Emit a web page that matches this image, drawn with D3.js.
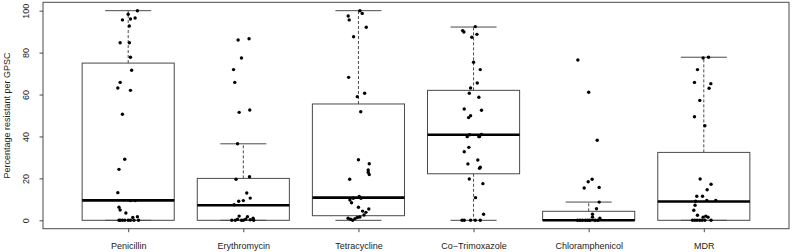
<!DOCTYPE html>
<html>
<head>
<meta charset="utf-8">
<script src="https://cdn.jsdelivr.net/npm/d3@7"></script>
<style>
	body { margin: 0; background: #fff; }
	svg { display: block; font-family: 'Liberation Sans', Arial, Helvetica, sans-serif; }
</style>
</head>
<body>
<svg id="chart" width="793" height="252"></svg>
<script>
const categories = ['Penicillin', 'Erythromycin', 'Tetracycline', 'Co\u2212Trimoxazole', 'Chloramphenicol', 'MDR']

// box statistics (percent)
const whiskerLow = [0, 0, 0, 0, 0, 0]
const q1 = [0, 0, 2.2, 22.2, 0, 0]
const medians = [9.5, 7.2, 10.8, 40.8, 0, 9]
const q3 = [75, 20, 55.5, 62, 4.3, 32.4]
const whiskerHigh = [100, 36.5, 100, 92.2, 8.7, 77.8]

const yTicks = [0, 20, 40, 60, 80, 100]

// per-GPSC values and the horizontal jitter seen in the picture (category units)
const penicillinPct = [100, 98.3, 96, 96.5, 95.6, 92.7, 84.7, 84.7, 77.8, 71.6, 65.8, 63.1, 62, 50.6, 29.1, 24.3, 13.2, 9.4, 9.4, 6.2, 4.9, 3.5, 1.7, 1.4, 0, 0, 0, 0, 0, 0, 0, 0]
const penicillinJit = [.08, 0, .02, .06, -.05, .01, -.07, .01, .02, .03, -.07, -.09, .02, -.05, -.03, -.08, -.09, .02, .06, -.08, -.07, -.02, .08, .04, -.07, -.05, -.03, 0, .02, .05, .09, -.08]

const erythromycinPct = [86, 86.6, 77.4, 71.9, 65.8, 51.5, 52.6, 36.5, 19.6, 20.8, 13, 10.6, 9.4, 9.1, 7.4, 0, 0, 0.5, 2, 0, 0, 0.5, 1.7, 0.3, 1, 0]
const erythromycinJit = [-.045, .05, -.016, -.085, -.074, -.036, .056, -.05, -.063, .054, .03, .06, 0, -.04, -.08, -.1, -.07, -.05, -.036, -.016, 0, .02, .036, .06, .085, .09]

const tetracyclinePct = [100, 98.7, 97.5, 95.6, 92.1, 87.6, 68.2, 60.6, 59, 51.8, 28.9, 27, 24, 22.9, 21.8, 19.6, 11.4, 10.5, 10.5, 9.7, 8.4, 6.2, 5.4, 4.4, 3.8, 2.5, 1, 0.5, 0, 0.8, 1.4, 1.6]
const tetracyclineJit = [.013, .033, -.089, -.08, .068, -.042, -.085, .054, -.01, .02, 0, .094, .085, .085, .094, -.076, .007, -.045, .022, -.074, -.06, 0, .09, .036, .065, .048, -.09, -.068, -.05, -.03, -.01, .013]

const coTrimoxazolePct = [92.4, 90.5, 89.8, 88.7, 87.3, 75.4, 71.9, 65.5, 63.1, 60.6, 58.7, 53.1, 52.5, 49.9, 49, 40.8, 39.9, 40, 41, 39.9, 34.8, 32.7, 28.8, 26.9, 25.3, 24.8, 19.7, 17.5, 10.8, 2.9, 0, 0, 0, 0, 0]
const coTrimoxazoleJit = [.015, -.095, -.084, .029, -.015, 0, .058, .032, -.026, -.037, .046, -.081, .069, -.026, -.043, -.035, -.055, .052, .069, .046, -.041, -.081, .037, -.049, .058, .052, -.037, .081, .017, .087, -.1, -.081, -.026, .015, .058]

const chloramphenicolPct = [76.5, 61.1, 38.2, 19.6, 18.4, 15.4, 15.7, 8.7, 5.5, 2.9, 0, 0, 0, 0, 0, 0, 1.5, 0, 0, 1]
const chloramphenicolJit = [-.094, 0, .074, .03, -.004, -.039, .091, .091, .068, .033, -.097, -.076, -.054, -.028, -.007, .01, .033, .056, .08, .097]

const mdrPct = [77.4, 77.8, 71.9, 65.8, 65.2, 63, 57.2, 49.4, 45.1, 19.7, 17.2, 14.6, 11.5, 11.5, 9.5, 9.5, 9.1, 7.2, 4.8, 2.4, 1.5, 2, 1.5, 0, 0, 0, 0, 0, 0, 0]
const mdrJit = [-.006, .041, -.055, -.081, .061, .046, -.035, -.081, .009, -.032, .063, .029, -.061, -.011, .026, .104, -.072, -.076, -.087, -.055, -.006, .017, .037, -.098, -.078, -.058, -.035, -.015, .009, .063]

const pointValues = [penicillinPct, erythromycinPct, tetracyclinePct, coTrimoxazolePct, chloramphenicolPct, mdrPct]
const pointJitter = [penicillinJit, erythromycinJit, tetracyclineJit, coTrimoxazoleJit, chloramphenicolJit, mdrJit]

const boxes = categories.map((c, i) => ({
	pos: i + 1,
	lo: whiskerLow[i],
	q1: q1[i],
	med: medians[i],
	q3: q3[i],
	hi: whiskerHigh[i]
}))

const points = []
pointValues.forEach((vals, i) => {
	vals.forEach((v, j) => points.push({ pos: i + 1 + pointJitter[i][j], v: v }))
})

const plotLeft = 43
const plotRight = 789
const plotTop = 2.3
const plotBottom = 228.7
const lineColor = '#4a4a4a'
const fontSize = 9

const xScale = d3.scaleLinear()
	.domain([0.26, 6.74])
	.range([plotLeft, plotRight])

const yScale = d3.scaleLinear()
	.domain([-4, 104])
	.range([plotBottom, plotTop])

const svg = d3.select('#chart')

// boxes
const boxW = 0.4
const capW = 0.2

const g = svg.selectAll('g.box')
	.data(boxes)
	.enter()
	.append('g')
	.attr('class', 'box')

g.append('line')
	.attr('x1', d => xScale(d.pos))
	.attr('x2', d => xScale(d.pos))
	.attr('y1', d => yScale(d.q3))
	.attr('y2', d => yScale(d.hi))
	.style('stroke', lineColor)
	.style('stroke-dasharray', '3,2')

g.append('line')
	.attr('x1', d => xScale(d.pos))
	.attr('x2', d => xScale(d.pos))
	.attr('y1', d => yScale(d.q1))
	.attr('y2', d => yScale(d.lo))
	.style('stroke', lineColor)
	.style('stroke-dasharray', '3,2')

g.append('line')
	.attr('x1', d => xScale(d.pos - capW))
	.attr('x2', d => xScale(d.pos + capW))
	.attr('y1', d => yScale(d.hi))
	.attr('y2', d => yScale(d.hi))
	.style('stroke', lineColor)

g.append('line')
	.attr('x1', d => xScale(d.pos - capW))
	.attr('x2', d => xScale(d.pos + capW))
	.attr('y1', d => yScale(d.lo))
	.attr('y2', d => yScale(d.lo))
	.style('stroke', lineColor)

g.append('rect')
	.attr('x', d => xScale(d.pos - boxW))
	.attr('width', d => xScale(d.pos + boxW) - xScale(d.pos - boxW))
	.attr('y', d => yScale(d.q3))
	.attr('height', d => yScale(d.q1) - yScale(d.q3))
	.style('fill', 'none')
	.style('stroke', lineColor)

g.append('line')
	.attr('x1', d => xScale(d.pos - boxW))
	.attr('x2', d => xScale(d.pos + boxW))
	.attr('y1', d => yScale(d.med))
	.attr('y2', d => yScale(d.med))
	.style('stroke', '#000')
	.style('stroke-width', 2.6)

// jittered points
svg.selectAll('circle.pt')
	.data(points)
	.enter()
	.append('circle')
	.attr('class', 'pt')
	.attr('cx', d => xScale(d.pos))
	.attr('cy', d => yScale(d.v))
	.attr('r', 1.7)
	.style('fill', '#000')

// frame
svg.append('rect')
	.attr('x', plotLeft)
	.attr('y', plotTop)
	.attr('width', plotRight - plotLeft)
	.attr('height', plotBottom - plotTop)
	.style('fill', 'none')
	.style('stroke', lineColor)

// axes
const yAxis = svg.append('g')
	.attr('transform', `translate(${plotLeft},0)`)
	.call(d3.axisLeft(yScale).tickValues(yTicks).tickSize(3.5).tickSizeOuter(0))

yAxis.select('.domain').remove()
yAxis.selectAll('line').style('stroke', lineColor)
yAxis.selectAll('text')
	.attr('transform', 'rotate(-90)')
	.attr('x', 0)
	.attr('y', -14)
	.attr('dy', null)
	.style('text-anchor', 'middle')
	.style('font-size', fontSize + 'px')
	.style('font-family', null)
	.style('fill', '#222')

const xAxis = svg.append('g')
	.attr('transform', `translate(0,${plotBottom})`)
	.call(d3.axisBottom(xScale).tickValues(boxes.map(d => d.pos)).tickFormat((d, i) => categories[i]).tickSize(3.5).tickSizeOuter(0))

xAxis.select('.domain').remove()
xAxis.selectAll('line').style('stroke', lineColor)
xAxis.selectAll('text')
	.attr('y', 20)
	.attr('dy', null)
	.style('font-size', fontSize + 'px')
	.style('font-family', null)
	.style('fill', '#222')

svg.append('text')
	.attr('transform', `translate(10,${(plotTop + plotBottom) / 2}) rotate(-90)`)
	.style('text-anchor', 'middle')
	.style('font-size', fontSize + 'px')
	.style('fill', '#222')
	.text('Percentage resistant per GPSC')
</script>
</body>
</html>
